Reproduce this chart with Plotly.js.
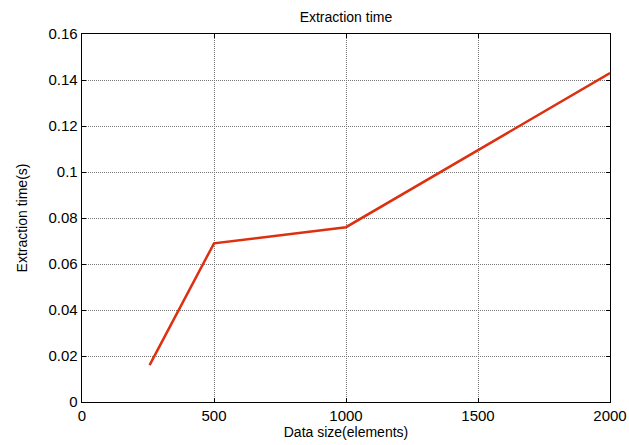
<!DOCTYPE html>
<html>
<head>
<meta charset="utf-8">
<script src="https://cdn.plot.ly/plotly-3.0.1.min.js"></script>
<style>html,body{margin:0;padding:0;background:#fff;}#chart{width:629px;height:445px;}</style>
</head>
<body>
<div id="chart"></div>
<script>
const dataSize = [256, 500, 1000, 2000];
const extractionTime = [0.016, 0.069, 0.076, 0.143];
const xTicks = [0, 500, 1000, 1500, 2000];
const yTicks = [0, 0.02, 0.04, 0.06, 0.08, 0.1, 0.12, 0.14, 0.16];
const yTickText = ['0', '0.02', '0.04', '0.06', '0.08', '0.1', '0.12', '0.14', '0.16'];

const font = 'Liberation Sans, Arial, sans-serif';
const axisCommon = {
  showline: true, linecolor: '#000', linewidth: 1.3, mirror: 'ticks',
  ticks: 'inside', ticklen: 4, tickcolor: '#000',
  showgrid: true, gridcolor: '#777', griddash: '1px,1px', gridwidth: 1,
  zeroline: false, tickfont: {family: font, size: 15, color: '#000'}
};
Plotly.newPlot('chart', [{
  x: dataSize, y: extractionTime, type: 'scatter', mode: 'lines',
  line: {color: '#dc3010', width: 2.5}
}], {
  width: 629, height: 445,
  margin: {l: 82, r: 19, t: 34, b: 43},
  paper_bgcolor: '#fff', plot_bgcolor: '#fff',
  showlegend: false,
  title: {text: 'Extraction time', font: {family: font, size: 14, color: '#000'}, x: 0.55, xanchor: 'center', y: 0.962, yanchor: 'middle'},
  xaxis: Object.assign({}, axisCommon, {
    range: [0, 2000], tickvals: xTicks, ticktext: xTicks.map(String),
    title: {text: 'Data size(elements)', font: {family: font, size: 14, color: '#000'}, standoff: 2}
  }),
  yaxis: Object.assign({}, axisCommon, {
    range: [0, 0.16], tickvals: yTicks, ticktext: yTickText,
    title: {text: 'Extraction time(s)', font: {family: font, size: 14, color: '#000'}, standoff: 17}
  })
}, {displayModeBar: false, staticPlot: true});
</script>
</body>
</html>
